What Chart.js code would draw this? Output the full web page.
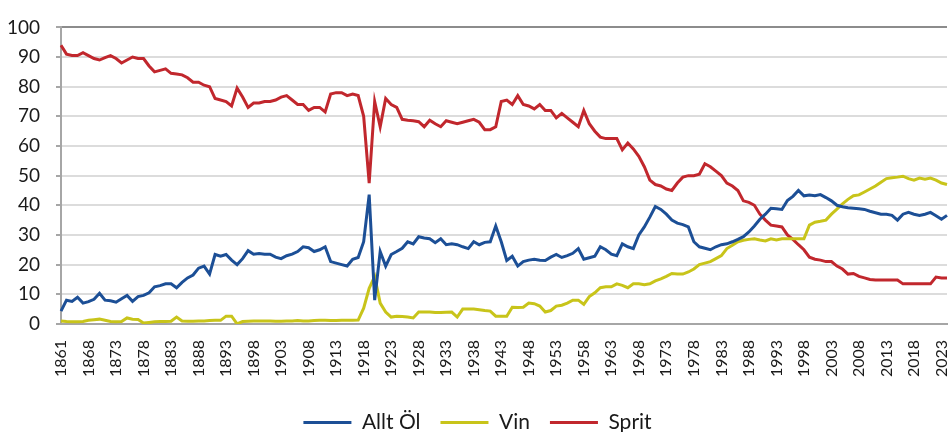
<!DOCTYPE html>
<html>
<head>
<meta charset="utf-8">
<script src="https://cdn.jsdelivr.net/npm/chart.js@4.4.1/dist/chart.umd.min.js"></script>
<style>
  html, body { margin: 0; padding: 0; background: #fff; }
  #wrap { width: 948px; height: 432px; }
</style>
</head>
<body>
<div id="wrap"><canvas id="chart"></canvas></div>
<script>
// years: 1861, then 1864..2024
var years = ["1861"];
for (var y = 1864; y <= 2024; y++) years.push(String(y));

var olValues = [
  4.3,
  8, 7.6, 9, 7, 7.5, 8.3, 10.3, 8, 7.8, 7.3,
  8.5, 9.6, 7.6, 9.2, 9.6, 10.5, 12.5, 12.9, 13.5, 13.5,
  12.2, 14, 15.5, 16.5, 18.8, 19.5, 16.8, 23.4, 22.8, 23.4,
  21.5, 20, 22, 24.7, 23.5, 23.7, 23.5, 23.5, 22.5, 22,
  23, 23.5, 24.4, 26, 25.7, 24.4, 25, 26, 21, 20.5,
  20, 19.5, 21.8, 22.4, 27.7, 43.6, 8, 24.4, 19.5, 23.4,
  24.4, 25.5, 27.7, 27, 29.4, 29, 28.7, 27.4, 28.7, 26.7,
  27, 26.7, 26, 25.4, 27.7, 26.7, 27.5, 27.7, 33, 27.7,
  21.4, 22.8, 19.5, 21, 21.5, 21.8, 21.5, 21.4, 22.5, 23.4,
  22.4, 23, 23.8, 25.4, 21.8, 22.3, 22.8, 26, 25, 23.5,
  23, 27, 26, 25.4, 30, 32.7, 36, 39.6, 38.6, 37,
  35, 34, 33.5, 32.7, 27.7, 26, 25.5, 25, 26, 26.7,
  27, 27.7, 28.5, 29.4, 31, 33, 35.3, 37, 39, 38.8,
  38.6, 41.6, 43, 45, 43.2, 43.5, 43.2, 43.6, 42.6, 41.5,
  40, 39.5, 39.2, 39, 38.8, 38.6, 38, 37.5, 37, 37,
  36.6, 35, 37, 37.6, 37, 36.6, 37, 37.6, 36.5, 35.3,
  36.6
];

var vinValues = [
  1,
  0.8, 0.7, 0.7, 0.8, 1.2, 1.4, 1.6, 1.2, 0.8, 0.7,
  0.8, 2, 1.6, 1.5, 0.3, 0.5, 0.7, 0.8, 0.8, 0.9,
  2.3, 1, 0.9, 0.9, 1, 1, 1.1, 1.2, 1.2, 2.6,
  2.6, 0, 0.8, 0.9, 1, 1, 1, 1, 0.9, 0.9,
  1, 1, 1.1, 1, 1, 1.1, 1.2, 1.2, 1.1, 1.1,
  1.2, 1.2, 1.2, 1.3, 5.3, 12, 16, 7, 4, 2.3,
  2.6, 2.5, 2.3, 2, 4, 4, 4, 3.8, 3.8, 3.9,
  4, 2.3, 5, 5, 5, 4.8, 4.5, 4.3, 2.6, 2.6,
  2.6, 5.6, 5.5, 5.6, 7, 6.8, 6, 4, 4.5, 6,
  6.3, 7, 8, 8, 6.6, 9.2, 10.5, 12.2, 12.5, 12.5,
  13.5, 13, 12.2, 13.5, 13.5, 13.2, 13.5, 14.5, 15.2, 16,
  17, 16.8, 16.8, 17.5, 18.5, 20, 20.5, 21, 22, 23,
  25.4, 26.5, 27.7, 28.2, 28.5, 28.7, 28.3, 28, 28.7, 28.3,
  28.7, 28.7, 28.7, 28.7, 28.7, 33.3, 34.3, 34.6, 35, 37,
  38.7, 40.5, 42, 43.2, 43.5, 44.5, 45.5, 46.5, 47.8, 49,
  49.3, 49.5, 49.8, 49, 48.5, 49.2, 48.8, 49.2, 48.5, 47.5,
  47
];

var spritValues = [
  94,
  91, 90.5, 90.5, 91.5, 90.5, 89.5, 89, 89.8, 90.5, 89.5,
  88, 89, 90, 89.5, 89.5, 87, 85, 85.5, 86, 84.5,
  84.3, 84, 83, 81.5, 81.5, 80.5, 80, 76, 75.5, 75,
  73.5, 79.5, 76.5, 73, 74.5, 74.5, 75, 75, 75.5, 76.5,
  77, 75.5, 74, 74, 72, 73, 73, 71.5, 77.5, 78,
  78, 77, 77.5, 77, 70, 47.5, 75, 66.5, 76, 74,
  73, 69, 68.7, 68.5, 68.2, 66.5, 68.7, 67.5, 66.5, 68.5,
  68, 67.5, 68, 68.5, 69, 68, 65.5, 65.5, 66.5, 75,
  75.5, 74, 77, 74, 73.5, 72.5, 74, 72, 72, 69.5,
  71, 69.5, 68, 66.5, 72, 67.5, 65, 63, 62.5, 62.5,
  62.5, 58.7, 61, 59, 56.5, 53, 48.5, 47, 46.5, 45.5,
  45, 47.5, 49.5, 50, 50, 50.5, 54, 53, 51.5, 50,
  47.5, 46.5, 45, 41.5, 41, 40, 37, 35, 33.3, 33,
  32.7, 30, 28.5, 26.7, 25, 22.5, 21.8, 21.5, 21, 21,
  19.5, 18.5, 16.8, 17, 16, 15.5, 15, 14.8, 14.8, 14.8,
  14.8, 14.8, 13.5, 13.5, 13.5, 13.5, 13.5, 13.5, 15.8, 15.5,
  15.5
];

var yTicks = [0, 10, 20, 30, 40, 50, 60, 70, 80, 90, 100];

var seriesNames = ["Allt Öl", "Vin", "Sprit"];
var seriesColors = ["#1c4f96", "#c8c41a", "#c1272d"];

var fontFamily = "Lato, 'Open Sans', sans-serif";

new Chart(document.getElementById("chart"), {
    type: "line",
    data: {
        labels: years,
        datasets: [
            { label: seriesNames[0], data: olValues, borderColor: seriesColors[0], backgroundColor: seriesColors[0], borderWidth: 3 },
            { label: seriesNames[1], data: vinValues, borderColor: seriesColors[1], backgroundColor: seriesColors[1], borderWidth: 3 },
            { label: seriesNames[2], data: spritValues, borderColor: seriesColors[2], backgroundColor: seriesColors[2], borderWidth: 3 }
        ]
    },
    options: {
        responsive: true,
        maintainAspectRatio: false,
        animation: false,
        devicePixelRatio: 1,
        layout: { padding: { top: 12, right: 1, left: 8, bottom: -11 } },
        elements: {
            line: { tension: 0 },
            point: { radius: 0 }
        },
        plugins: {
            tooltip: { enabled: false },
            legend: {
                position: "bottom",
                labels: {
                    usePointStyle: true,
                    pointStyleWidth: 48,
                    color: "#1a1a1a",
                    padding: 20,
                    font: { family: fontFamily, size: 21 },
                    generateLabels: function (chart) {
                        return chart.data.datasets.map(function (ds, i) {
                            return {
                                text: ds.label,
                                fillStyle: seriesColors[i],
                                strokeStyle: seriesColors[i],
                                lineWidth: 3,
                                pointStyle: "line",
                                fontColor: "#1a1a1a",
                                hidden: false,
                                datasetIndex: i
                            };
                        });
                    }
                }
            }
        },
        scales: {
            x: {
                offset: false,
                grid: { display: false },
                border: { color: "#a6a6a6", width: 2 },
                ticks: {
                    autoSkip: false,
                    maxRotation: 90,
                    minRotation: 90,
                    padding: 8,
                    color: "#1a1a1a",
                    font: { family: fontFamily, size: 16 },
                    callback: function (value, index) {
                        return index % 5 === 0 ? years[index] : "";
                    }
                },
                afterFit: function (scale) {
                    scale.height += 7;
                    scale.paddingLeft = 0;
                    scale.paddingRight = 0;
                }
            },
            y: {
                min: 0,
                max: 100,
                afterBuildTicks: function (scale) {
                    scale.ticks = yTicks.map(function (v) { return { value: v }; });
                },
                afterFit: function (scale) { scale.width = 53; },
                grid: {
                    color: function (ctx) { return ctx.tick && ctx.tick.value === 100 ? "#8c8c8c" : "#dcdcdc"; },
                    lineWidth: 2,
                    tickLength: 5,
                    tickColor: "#a6a6a6"
                },
                border: { color: "#a6a6a6", width: 2 },
                ticks: {
                    padding: 16,
                    color: "#1a1a1a",
                    font: { family: fontFamily, size: 19 }
                }
            }
        }
    }
});
</script>
</body>
</html>
